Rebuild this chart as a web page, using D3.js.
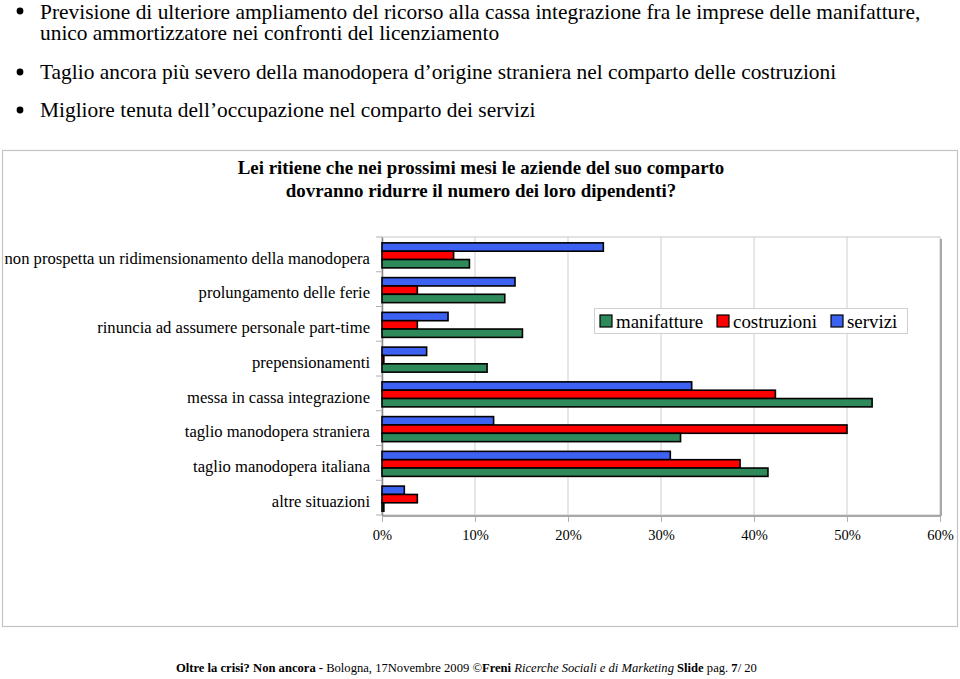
<!DOCTYPE html>
<html>
<head>
<meta charset="utf-8">
<script src="https://cdn.jsdelivr.net/npm/d3@7"></script>
<style>
  html, body { margin: 0; padding: 0; background: #fff; }
  svg { display: block; font-family: "Liberation Serif", "Times New Roman", serif; }
</style>
</head>
<body>
<svg id="chart" width="960" height="679"></svg>
<script>
// ---- data ----
const bullets = [
  ["Previsione di ulteriore ampliamento del ricorso alla cassa integrazione fra le imprese delle manifatture,",
   "unico ammortizzatore nei confronti del licenziamento"],
  ["Taglio ancora più severo della manodopera d’origine straniera nel comparto delle costruzioni"],
  ["Migliore tenuta dell’occupazione nel comparto dei servizi"]
];
const titleLines = ["Lei ritiene che nei prossimi mesi le aziende del suo comparto",
                    "dovranno ridurre il numero dei loro dipendenti?"];
const categories = [
  "non prospetta un ridimensionamento della manodopera",
  "prolungamento delle ferie",
  "rinuncia ad assumere personale part-time",
  "prepensionamenti",
  "messa in cassa integrazione",
  "taglio manodopera straniera",
  "taglio manodopera italiana",
  "altre situazioni"
];
const seriesNames = ["manifatture", "costruzioni", "servizi"];
const manifatture = [9.4, 13.2, 15.1, 11.3, 52.7, 32.1, 41.5, 0.2];
const costruzioni = [7.7, 3.8, 3.8, 0.2, 42.3, 50.0, 38.5, 3.8];
const servizi     = [23.8, 14.3, 7.1, 4.8, 33.3, 12.0, 31.0, 2.4];
const xTicks = [0, 10, 20, 30, 40, 50, 60];
const seriesColors = { manifatture: "#2f8a5b", costruzioni: "#ff0000", servizi: "#3d62f2" };

const rows = categories.map((c, i) => ({
  cat: c,
  servizi: servizi[i], costruzioni: costruzioni[i], manifatture: manifatture[i]
}));

const svg = d3.select("#chart");

// ---- bullets ----
const bulletY = [[11, 33], [72], [110]];
bullets.forEach((lines, i) => {
  svg.append("circle").attr("cx", 20).attr("cy", bulletY[i][0]).attr("r", 3.4).attr("fill", "#000");
  lines.forEach((t, j) => {
    svg.append("text").attr("x", 40).attr("y", bulletY[i][j]).attr("dy", "0.35em")
      .attr("font-size", 21.4).attr("fill", "#000").text(t);
  });
});

// ---- outer frame ----
svg.append("rect").attr("x", 2.5).attr("y", 150.5).attr("width", 955).attr("height", 476)
  .attr("fill", "none").attr("stroke", "#c4c4c4").attr("stroke-width", 1.2);

// ---- title ----
titleLines.forEach((t, j) => {
  svg.append("text").attr("x", 481).attr("y", 167 + j * 23).attr("dy", "0.35em")
    .attr("text-anchor", "middle").attr("font-weight", "bold").attr("font-size", 18.9).text(t);
});

// ---- plot ----
const L = 382, R = 940, T = 237, B = 515;
const x = d3.scaleLinear().domain([0, 60]).range([L, R]);
const y = d3.scaleBand().domain(categories).range([T, B]).paddingInner(0.28).paddingOuter(0.14);
const yInner = d3.scaleBand().domain(["servizi", "costruzioni", "manifatture"]).range([0, y.bandwidth()]);
const step = y.step();

// plot frame (3D-ish)
svg.append("rect").attr("x", L).attr("y", T).attr("width", R - L).attr("height", B - T)
  .attr("fill", "#fff").attr("stroke", "#c8c8c8").attr("stroke-width", 1);
svg.append("line").attr("x1", R + 1).attr("x2", R + 1).attr("y1", T + 2).attr("y2", B + 1)
  .attr("stroke", "#a8a8a8").attr("stroke-width", 2);
svg.append("line").attr("x1", L).attr("x2", R + 1).attr("y1", B + 1).attr("y2", B + 1)
  .attr("stroke", "#a8a8a8").attr("stroke-width", 2);

// gridlines
svg.append("g").selectAll("line").data(xTicks.slice(1, -1)).join("line")
  .attr("x1", d => x(d)).attr("x2", d => x(d)).attr("y1", T).attr("y2", B)
  .attr("stroke", "#cfcfcf").attr("stroke-width", 1);

// x axis
const xAxis = d3.axisBottom(x).tickValues(xTicks).tickFormat(d => d + "%").tickSize(5).tickPadding(8);
const gx = svg.append("g").attr("transform", `translate(0,${B + 2})`).call(xAxis);
gx.select(".domain").remove();
gx.selectAll(".tick line").attr("stroke", "#b0b0b0");
gx.selectAll(".tick text").attr("font-family", "Liberation Serif, serif").attr("font-size", 14.5).attr("fill", "#000");

// y axis
const yAxis = d3.axisLeft(y).tickSize(0).tickPadding(12);
const gy = svg.append("g").attr("transform", `translate(${L},0)`).call(yAxis);
gy.select(".domain").attr("stroke", "#888").attr("stroke-width", 1.5);
gy.selectAll(".tick text").attr("font-family", "Liberation Serif, serif").attr("font-size", 16.6)
  .attr("fill", "#000").attr("dy", "0.55em");
// band separator ticks
svg.append("g").selectAll("line").data(d3.range(categories.length + 1)).join("line")
  .attr("x1", L - 6).attr("x2", L).attr("y1", i => T + i * step).attr("y2", i => T + i * step)
  .attr("stroke", "#b0b0b0");

// bars
const groups = svg.append("g").selectAll("g").data(rows).join("g")
  .attr("transform", d => `translate(0,${y(d.cat) + 1})`);
groups.selectAll("rect").data(d => ["servizi", "costruzioni", "manifatture"].map(k => ({ k, v: d[k] })))
  .join("rect")
  .attr("x", x(0))
  .attr("y", d => yInner(d.k))
  .attr("width", d => x(d.v) - x(0))
  .attr("height", yInner.bandwidth())
  .attr("fill", d => seriesColors[d.k])
  .attr("stroke", "#000").attr("stroke-width", 1.6);

// legend
const lg = svg.append("g");
lg.append("rect").attr("x", 594.5).attr("y", 308.5).attr("width", 313).attr("height", 25)
  .attr("fill", "#fff").attr("stroke", "#d0d0d0");
const legendX = [600, 717, 831];
seriesNames.forEach((s, i) => {
  lg.append("rect").attr("x", legendX[i]).attr("y", 315).attr("width", 12).attr("height", 12)
    .attr("fill", seriesColors[s]).attr("stroke", "#000").attr("stroke-width", 1.2);
  lg.append("text").attr("x", legendX[i] + 16).attr("y", 321).attr("dy", "0.35em")
    .attr("font-size", 18.9).text(s);
});

// footer
const footer = svg.append("text").attr("x", 176).attr("y", 672).attr("font-size", 12.6);
[["Oltre la crisi? Non ancora - ", "bold", "normal"],
 [" Bologna, 17Novembre 2009 ©", "normal", "normal"],
 ["Freni", "bold", "normal"],
 [" Ricerche Sociali e di Marketing", "normal", "italic"],
 [" Slide", "bold", "normal"],
 [" pag. ", "normal", "normal"],
 ["7", "bold", "normal"],
 ["/ 20", "normal", "normal"]].forEach(([t, w, st]) => {
  footer.append("tspan").attr("font-weight", w).attr("font-style", st).text(t);
});
</script>
</body>
</html>
